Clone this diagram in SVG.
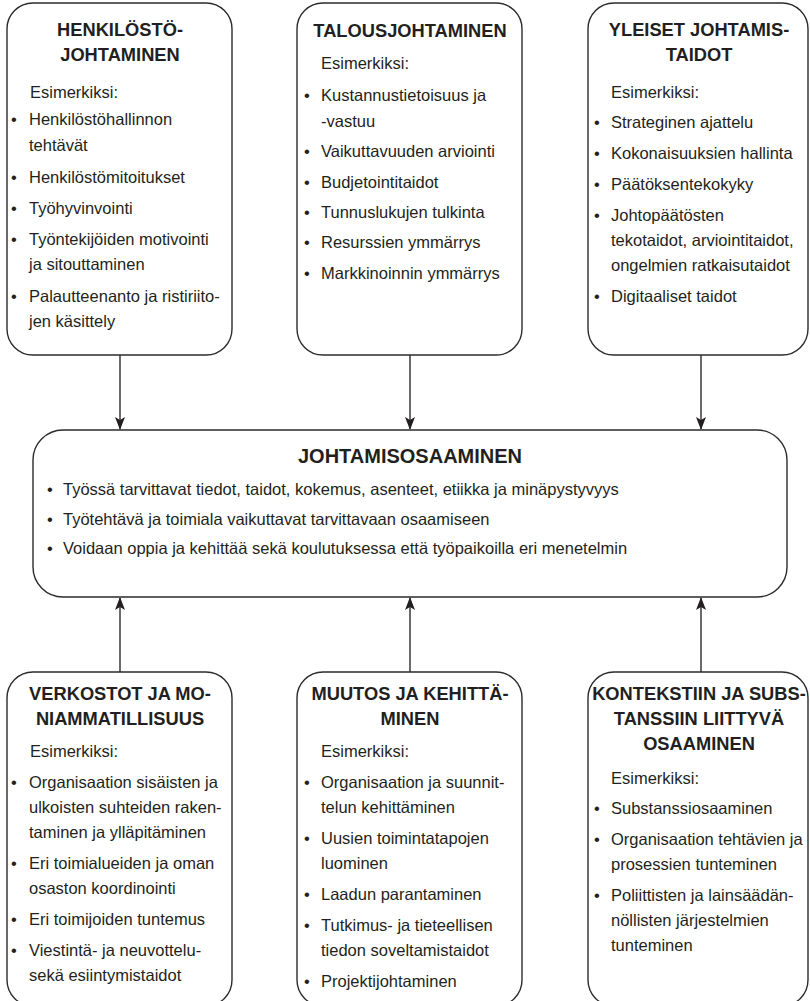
<svg xmlns="http://www.w3.org/2000/svg" width="810" height="1001" viewBox="0 0 810 1001">
<style>
.box{fill:#fff;stroke:#2b2b2b;stroke-width:1.4}
.t{font-family:"Liberation Sans",Arial,sans-serif;font-weight:bold;font-size:18.3px;fill:#231f20;text-anchor:middle}
.tm{font-family:"Liberation Sans",Arial,sans-serif;font-weight:bold;font-size:20px;fill:#231f20;text-anchor:middle}
.b{font-family:"Liberation Sans",Arial,sans-serif;font-size:16.5px;fill:#231f20}
.con{stroke:#2b2b2b;stroke-width:1.4;fill:none}
.ah{fill:#231f20}
</style>
<rect width="810" height="1001" fill="#fff"/>

<g id="connectors">
<line class="con" x1="120" y1="355" x2="120" y2="429"/>
<path class="ah" d="M115,417 L120,430 L125,417 L120,420 z"/>
<line class="con" x1="410" y1="355" x2="410" y2="429"/>
<path class="ah" d="M405,417 L410,430 L415,417 L410,420 z"/>
<line class="con" x1="701" y1="355" x2="701" y2="429"/>
<path class="ah" d="M696,417 L701,430 L706,417 L701,420 z"/>
<line class="con" x1="120" y1="672" x2="120" y2="598"/>
<path class="ah" d="M115,610 L120,597 L125,610 L120,607 z"/>
<line class="con" x1="410" y1="672" x2="410" y2="598"/>
<path class="ah" d="M405,610 L410,597 L415,610 L410,607 z"/>
<line class="con" x1="701" y1="672" x2="701" y2="598"/>
<path class="ah" d="M696,610 L701,597 L706,610 L701,607 z"/>
</g>

<g id="henkilosto">
<rect class="box" x="7" y="3" width="225" height="352" rx="26" ry="26"/>
<text class="t" x="120" y="36">HENKILÖSTÖ-</text>
<text class="t" x="120" y="61">JOHTAMINEN</text>
<text class="b" x="30" y="98">Esimerkiksi:</text>
<text class="b" x="11" y="125">•</text><text class="b" x="29" y="125">Henkilöstöhallinnon</text>
<text class="b" x="29" y="151">tehtävät</text>
<text class="b" x="11" y="183">•</text><text class="b" x="29" y="183">Henkilöstömitoitukset</text>
<text class="b" x="11" y="214">•</text><text class="b" x="29" y="214">Työhyvinvointi</text>
<text class="b" x="11" y="245">•</text><text class="b" x="29" y="245">Työntekijöiden motivointi</text>
<text class="b" x="29" y="270">ja sitouttaminen</text>
<text class="b" x="11" y="302">•</text><text class="b" x="29" y="302">Palautteenanto ja ristiriito-</text>
<text class="b" x="29" y="327">jen käsittely</text>
</g>

<g id="talous">
<rect class="box" x="297" y="3" width="225" height="352" rx="26" ry="26"/>
<text class="t" x="410" y="37">TALOUSJOHTAMINEN</text>
<text class="b" x="321" y="69">Esimerkiksi:</text>
<text class="b" x="304" y="101">•</text><text class="b" x="321" y="101">Kustannustietoisuus ja</text>
<text class="b" x="321" y="127">-vastuu</text>
<text class="b" x="304" y="157">•</text><text class="b" x="321" y="157">Vaikuttavuuden arviointi</text>
<text class="b" x="304" y="188">•</text><text class="b" x="321" y="188">Budjetointitaidot</text>
<text class="b" x="304" y="218">•</text><text class="b" x="321" y="218">Tunnuslukujen tulkinta</text>
<text class="b" x="304" y="248">•</text><text class="b" x="321" y="248">Resurssien ymmärrys</text>
<text class="b" x="304" y="279">•</text><text class="b" x="321" y="279">Markkinoinnin ymmärrys</text>
</g>

<g id="yleiset">
<rect class="box" x="588" y="3" width="220" height="352" rx="26" ry="26"/>
<text class="t" x="699" y="36">YLEISET JOHTAMIS-</text>
<text class="t" x="699" y="61">TAIDOT</text>
<text class="b" x="611" y="98">Esimerkiksi:</text>
<text class="b" x="594" y="128">•</text><text class="b" x="611" y="128">Strateginen ajattelu</text>
<text class="b" x="594" y="159">•</text><text class="b" x="611" y="159">Kokonaisuuksien hallinta</text>
<text class="b" x="594" y="190">•</text><text class="b" x="611" y="190">Päätöksentekokyky</text>
<text class="b" x="594" y="221">•</text><text class="b" x="611" y="221">Johtopäätösten</text>
<text class="b" x="611" y="246">tekotaidot, arviointitaidot,</text>
<text class="b" x="611" y="271">ongelmien ratkaisutaidot</text>
<text class="b" x="594" y="302">•</text><text class="b" x="611" y="302">Digitaaliset taidot</text>
</g>

<g id="johtamisosaaminen">
<rect class="box" x="33" y="430" width="754" height="167" rx="30" ry="30"/>
<text class="tm" x="410" y="463">JOHTAMISOSAAMINEN</text>
<text class="b" x="47" y="495">•</text><text class="b" x="63" y="495">Työssä tarvittavat tiedot, taidot, kokemus, asenteet, etiikka ja minäpystyvyys</text>
<text class="b" x="47" y="525">•</text><text class="b" x="63" y="525">Työtehtävä ja toimiala vaikuttavat tarvittavaan osaamiseen</text>
<text class="b" x="47" y="554">•</text><text class="b" x="63" y="554">Voidaan oppia ja kehittää sekä koulutuksessa että työpaikoilla eri menetelmin</text>
</g>

<g id="verkostot">
<rect class="box" x="7" y="672" width="225" height="334" rx="26" ry="26"/>
<text class="t" x="120" y="700">VERKOSTOT JA MO-</text>
<text class="t" x="120" y="725">NIAMMATILLISUUS</text>
<text class="b" x="30" y="757">Esimerkiksi:</text>
<text class="b" x="11" y="788">•</text><text class="b" x="29" y="788">Organisaation sisäisten ja</text>
<text class="b" x="29" y="813">ulkoisten suhteiden raken-</text>
<text class="b" x="29" y="838">taminen ja ylläpitäminen</text>
<text class="b" x="11" y="869">•</text><text class="b" x="29" y="869">Eri toimialueiden ja oman</text>
<text class="b" x="29" y="894">osaston koordinointi</text>
<text class="b" x="11" y="925">•</text><text class="b" x="29" y="925">Eri toimijoiden tuntemus</text>
<text class="b" x="11" y="956">•</text><text class="b" x="29" y="956">Viestintä- ja neuvottelu-</text>
<text class="b" x="29" y="981">sekä esiintymistaidot</text>
</g>

<g id="muutos">
<rect class="box" x="297" y="672" width="225" height="334" rx="26" ry="26"/>
<text class="t" x="410" y="700">MUUTOS JA KEHITTÄ-</text>
<text class="t" x="410" y="725">MINEN</text>
<text class="b" x="321" y="757">Esimerkiksi:</text>
<text class="b" x="304" y="788">•</text><text class="b" x="321" y="788">Organisaation ja suunnit-</text>
<text class="b" x="321" y="813">telun kehittäminen</text>
<text class="b" x="304" y="844">•</text><text class="b" x="321" y="844">Uusien toimintatapojen</text>
<text class="b" x="321" y="869">luominen</text>
<text class="b" x="304" y="900">•</text><text class="b" x="321" y="900">Laadun parantaminen</text>
<text class="b" x="304" y="931">•</text><text class="b" x="321" y="931">Tutkimus- ja tieteellisen</text>
<text class="b" x="321" y="956">tiedon soveltamistaidot</text>
<text class="b" x="304" y="987">•</text><text class="b" x="321" y="987">Projektijohtaminen</text>
</g>

<g id="konteksti">
<rect class="box" x="588" y="672" width="220" height="334" rx="26" ry="26"/>
<text class="t" x="699" y="700">KONTEKSTIIN JA SUBS-</text>
<text class="t" x="699" y="725">TANSSIIN LIITTYVÄ</text>
<text class="t" x="699" y="750">OSAAMINEN</text>
<text class="b" x="611" y="784">Esimerkiksi:</text>
<text class="b" x="594" y="814">•</text><text class="b" x="611" y="814">Substanssiosaaminen</text>
<text class="b" x="594" y="845">•</text><text class="b" x="611" y="845">Organisaation tehtävien ja</text>
<text class="b" x="611" y="870">prosessien tunteminen</text>
<text class="b" x="594" y="901">•</text><text class="b" x="611" y="901">Poliittisten ja lainsäädän-</text>
<text class="b" x="611" y="926">nöllisten järjestelmien</text>
<text class="b" x="611" y="951">tunteminen</text>
</g>
</svg>
